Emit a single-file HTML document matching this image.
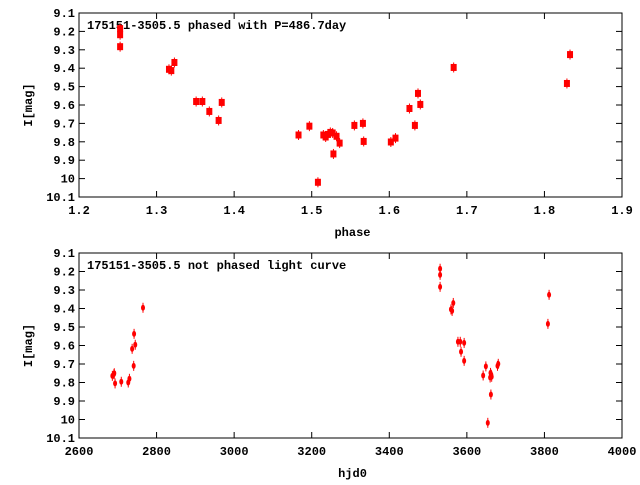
<!DOCTYPE html>
<html><head><meta charset="utf-8"><style>
body{margin:0;background:#fff}
svg text{font-family:"Liberation Mono","DejaVu Sans Mono",monospace;font-size:12px;font-weight:bold;fill:#000}
</style></head><body>
<svg id="c" width="640" height="480" viewBox="0 0 640 480"></svg>
<script>
const phaseX=[1.253,1.253,1.253,1.316,1.319,1.323,1.351,1.359,1.368,1.380,1.384,1.483,1.497,1.508,1.515,1.518,1.521,1.524,1.527,1.528,1.532,1.536,1.555,1.566,1.567,1.602,1.608,1.626,1.633,1.637,1.640,1.683,1.829,1.833];
const phaseMag=[9.185,9.218,9.283,9.406,9.413,9.369,9.581,9.581,9.635,9.684,9.586,9.763,9.715,10.02,9.763,9.774,9.760,9.749,9.752,9.866,9.770,9.807,9.711,9.700,9.798,9.801,9.780,9.619,9.711,9.537,9.597,9.396,9.483,9.326];
const hjd=[2686,2690,2691,2693,2709,2727,2730,2737,2741,2742,2745,2765,3531,3531,3531,3559,3562,3565,3577,3583,3585,3593,3593,3642,3649,3654,3660,3661,3662,3664,3663,3679,3681,3809,3812];
const hjdMag=[9.764,9.755,9.750,9.805,9.796,9.800,9.780,9.618,9.710,9.537,9.596,9.396,9.185,9.218,9.283,9.405,9.413,9.370,9.580,9.580,9.634,9.586,9.683,9.762,9.713,10.018,9.773,9.748,9.865,9.769,9.758,9.710,9.699,9.483,9.326,9.326];
const phaseTicks=["1.2","1.3","1.4","1.5","1.6","1.7","1.8","1.9"];
const hjdTicks=["2600","2800","3000","3200","3400","3600","3800","4000"];
const magTicks=["9.1","9.2","9.3","9.4","9.5","9.6","9.7","9.8","9.9","10","10.1"];
const NS="http://www.w3.org/2000/svg";
const svg=document.getElementById('c');
function mk(t,a,p){const e=document.createElementNS(NS,t);for(const k in a)e.setAttribute(k,a[k]);(p||svg).appendChild(e);return e;}
function panel(o){
  const g=mk('g',{});
  
  
  const L=79,R=622,T=o.top,B=o.bot;
  const sx=v=>L+(v-o.x0)/(o.x1-o.x0)*(R-L);
  const sy=v=>T+(v-9.1)/1.0*(B-T);
  const fr=mk('rect',{x:L,y:T,width:R-L,height:B-T,fill:'none',stroke:'#000','stroke-width':1},g);
  
  
  o.xt.forEach(s=>{const v=parseFloat(s),x=sx(v);
    mk('line',{x1:x,y1:B,x2:x,y2:B-6,stroke:'#000'},g);mk('line',{x1:x,y1:T,x2:x,y2:T+6,stroke:'#000'},g);
    const t=mk('text',{x:x,y:B+17,'text-anchor':'middle'},g);t.textContent=s;
    
    });
  magTicks.forEach(s=>{const v=parseFloat(s),y=sy(v);
    mk('line',{x1:L,y1:y,x2:L+6,y2:y,stroke:'#000'},g);mk('line',{x1:R,y1:y,x2:R-6,y2:y,stroke:'#000'},g);
    const t=mk('text',{x:L-4,y:y+4,'text-anchor':'end'},g);t.textContent=s;
    
    });
  const xl=mk('text',{x:(L+R)/2+2,y:B+39,'text-anchor':'middle'},g);xl.textContent=o.xlabel;
  
  
  const yl=mk('text',{x:0,y:0,'text-anchor':'middle',transform:`translate(32,${(T+B)/2}) rotate(-90)`},g);yl.textContent='I[mag]';
  
  
  const ti=mk('text',{x:L+8,y:T+16},g);ti.textContent=o.title;
  
  
  o.xs.forEach((v,i)=>{const x=sx(v),y=sy(o.ys[i]);
    const m=o.big?mk('rect',{x:x-3,y:y-3.5,width:6,height:7,fill:'#f00'},g):mk('ellipse',{cx:x,cy:y,rx:2,ry:3,fill:'#f00'},g);
    
    
    mk('line',{x1:x,y1:y-5,x2:x,y2:y+5,stroke:'#f00','stroke-width':1},g);});
}
panel({name:'phased-panel',top:13,bot:197,x0:1.2,x1:1.9,xt:phaseTicks,xs:phaseX,ys:phaseMag,big:true,xlabel:'phase',title:'175151-3505.5 phased with P=486.7day'});
panel({name:'unphased-panel',top:253,bot:438,x0:2600,x1:4000,xt:hjdTicks,xs:hjd,ys:hjdMag,big:false,xlabel:'hjd0',title:'175151-3505.5 not phased light curve'});
</script>
</body></html>
